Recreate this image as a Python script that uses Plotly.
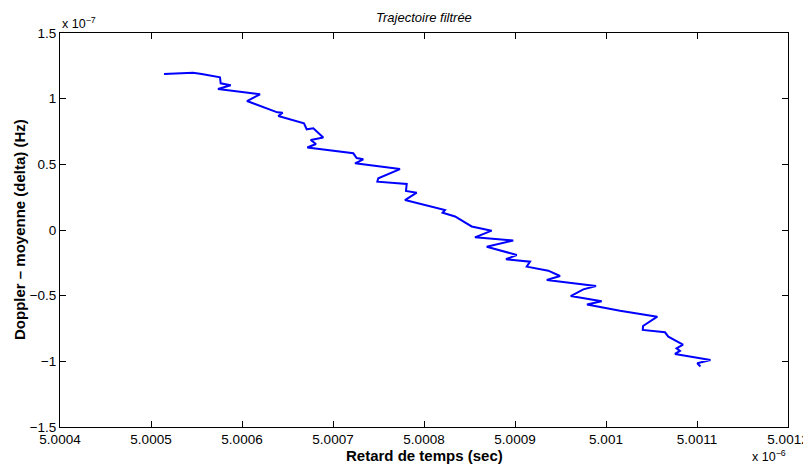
import plotly.graph_objects as go

# Retard de temps (units of 1e-6 s) and Doppler - moyenne (units of 1e-7 Hz)
retard_e6 = [5.0005143, 5.0005462, 5.0005557, 5.0005758, 5.0005766, 5.0005876, 5.0005736,
             5.0006198, 5.0006055, 5.0006388, 5.0006447, 5.0006399, 5.0006681, 5.0006711,
             5.0006784, 5.0006893, 5.0006755, 5.0006813, 5.0006718, 5.0007223, 5.0007260,
             5.0007333, 5.0007242, 5.0007736, 5.0007498, 5.0007487, 5.0007810, 5.0007802,
             5.0007920, 5.0007791, 5.0008231, 5.0008205, 5.0008341, 5.0008524, 5.0008744,
             5.0008560, 5.0008981, 5.0008689, 5.0009019, 5.0008901, 5.0009165, 5.0009129,
             5.0009366, 5.0009495, 5.0009349, 5.0009890, 5.0009751, 5.0009612, 5.0009953,
             5.0009791, 5.0010154, 5.0010564, 5.0010407, 5.0010404, 5.0010648, 5.0010685,
             5.0010846, 5.0010775, 5.0010813, 5.0010758, 5.0011148, 5.0011003, 5.0011038]
doppler_e7 = [1.188, 1.198, 1.188, 1.163, 1.117, 1.102, 1.074, 1.033, 0.982, 0.896, 0.893,
              0.868, 0.812, 0.767, 0.775, 0.704, 0.685, 0.655, 0.628, 0.584, 0.548, 0.538,
              0.508, 0.464, 0.394, 0.368, 0.350, 0.297, 0.284, 0.228, 0.152, 0.132, 0.103,
              0.027, -0.005, -0.056, -0.080, -0.127, -0.190, -0.223, -0.241, -0.279, -0.310,
              -0.350, -0.381, -0.426, -0.452, -0.503, -0.543, -0.567, -0.615, -0.660, -0.731,
              -0.761, -0.779, -0.812, -0.872, -0.901, -0.921, -0.944, -0.990, -1.015, -1.039]

x_ticks = [5.0004, 5.0005, 5.0006, 5.0007, 5.0008, 5.0009, 5.0010, 5.0011, 5.0012]
x_labels = ["5.0004", "5.0005", "5.0006", "5.0007", "5.0008", "5.0009", "5.001", "5.0011", "5.0012"]
y_ticks = [-1.5, -1.0, -0.5, 0.0, 0.5, 1.0, 1.5]
y_labels = ["\u22121.5", "\u22121", "\u22120.5", "0", "0.5", "1", "1.5"]

FONT = "Liberation Sans, Arial, Helvetica, sans-serif"

fig = go.Figure()
fig.add_trace(go.Scatter(x=retard_e6, y=doppler_e7, mode="lines",
                         line=dict(color="#0000FF", width=2), showlegend=False))

axis_common = dict(showgrid=False, zeroline=False, showline=True, linecolor="black",
                   linewidth=1, mirror="ticks", ticks="inside", ticklen=6,
                   tickcolor="black", tickwidth=1, automargin=False,
                   tickfont=dict(family=FONT, size=13.5, color="black"))

fig.update_xaxes(range=[5.0004, 5.0012], tickvals=x_ticks, ticktext=x_labels, **axis_common)
fig.update_yaxes(range=[-1.5, 1.5], tickvals=y_ticks, ticktext=y_labels, **axis_common)

# the page body adds an 8px offset; size the figure to fill the window after it
fig.update_layout(
    width=803, height=460,
    margin=dict(l=52, r=23, t=25, b=41, autoexpand=False),
    paper_bgcolor="white", plot_bgcolor="white",
    font=dict(family=FONT, color="black"),
    annotations=[
        dict(text="<i>Trajectoire filtrée</i>", x=0.5, y=1, xref="paper", yref="paper",
             xanchor="center", yanchor="middle", yshift=16, showarrow=False,
             font=dict(family=FONT, size=13, color="black")),
        dict(text="<b>Retard de temps (sec)</b>", x=0.5, y=0, xref="paper", yref="paper",
             xanchor="center", yanchor="middle", yshift=-28, showarrow=False,
             font=dict(family=FONT, size=15, color="black")),
        dict(text="<b>Doppler – moyenne (delta) (Hz)</b>", x=0, y=0.5, xref="paper", yref="paper",
             xanchor="center", yanchor="middle", xshift=-41, textangle=-90, showarrow=False,
             font=dict(family=FONT, size=15, color="black")),
        dict(text="x 10<sup>−7</sup>", x=0, y=1, xref="paper", yref="paper",
             xanchor="left", yanchor="bottom", yshift=0, showarrow=False,
             font=dict(family=FONT, size=12.5, color="black")),
        dict(text="x 10<sup>−6</sup>", x=1, y=0, xref="paper", yref="paper",
             xanchor="right", yanchor="middle", yshift=-29, showarrow=False,
             font=dict(family=FONT, size=12.5, color="black")),
    ],
)

fig.write_html("out.html")
